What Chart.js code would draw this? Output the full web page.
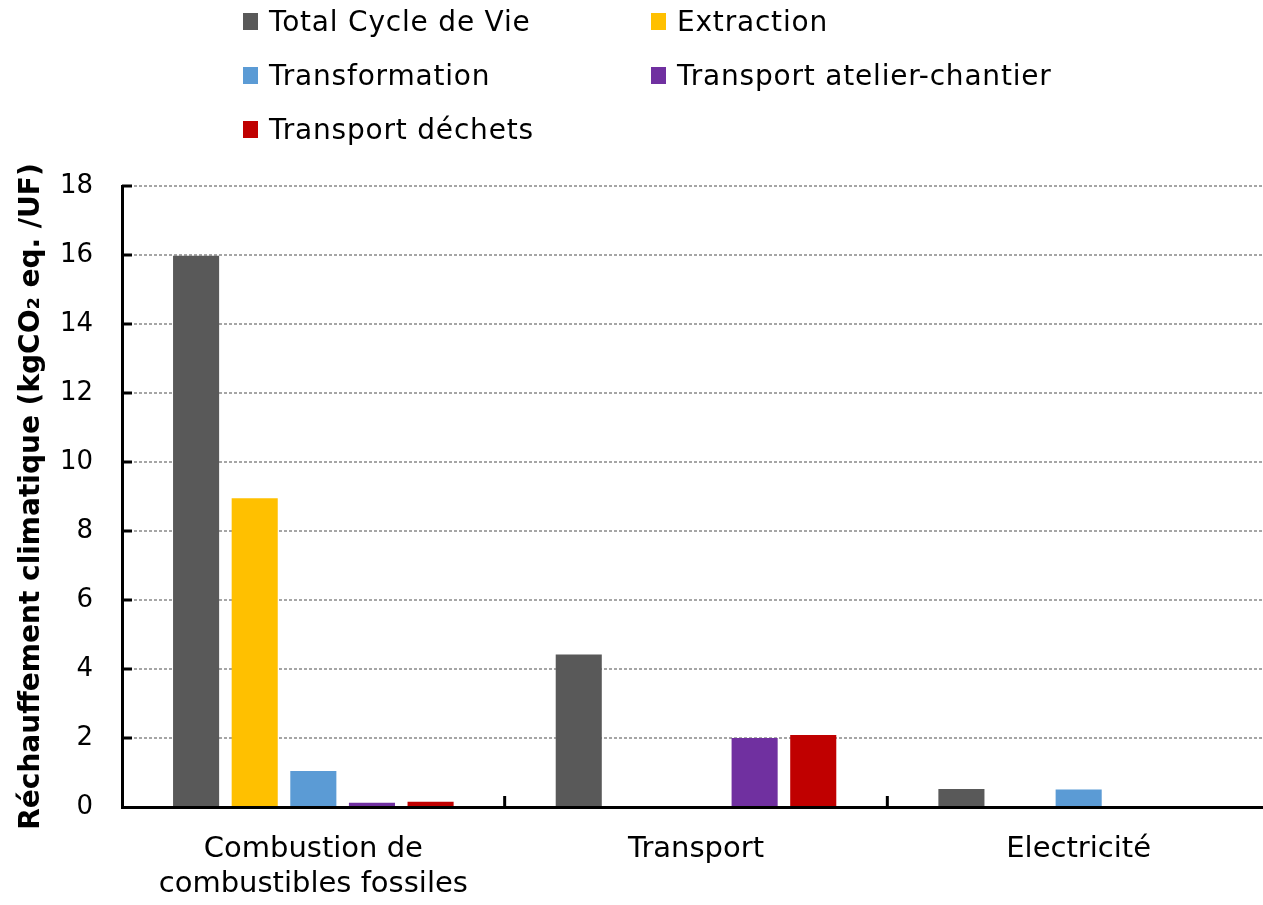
<!DOCTYPE html>
<html>
<head>
<meta charset="utf-8">
<script src="https://cdn.jsdelivr.net/npm/chart.js@4.4.1/dist/chart.umd.min.js"></script>
<style>
  body { margin: 0; background: #fff; overflow: hidden; }
  #wrap { position: relative; width: 1263px; height: 905px; overflow: hidden; }
  #legend { position: absolute; left: 243px; top: -6px; font-family: "DejaVu Sans", sans-serif; font-size: 28px; letter-spacing: 0.8px; color: #000;
            display: grid; grid-template-columns: 408px 420px; grid-auto-rows: 54px; white-space: nowrap; }
  .item { display: flex; align-items: center; }
  .box { width: 15px; height: 17px; margin-right: 11px; }
</style>
</head>
<body>
<div id="wrap">
  <canvas id="myChart" width="1270" height="905"></canvas>
  <div id="legend"></div>
</div>
<script>
// categories and series
const categories = [["Combustion de", "combustibles fossiles"], "Transport", "Electricité"];
const seriesNames = ["Total Cycle de Vie", "Extraction", "Transformation", "Transport atelier-chantier", "Transport déchets"];
const totalCycle = [15.98, 4.42, 0.52];
const extraction = [8.95, 0, 0];
const transformation = [1.04, 0, 0.51];
const transportAtelier = [0.12, 2.0, 0];
const transportDechets = [0.15, 2.09, 0];
const yTicks = [0, 2, 4, 6, 8, 10, 12, 14, 16, 18];
const colors = ["#595959", "#FFC000", "#5B9BD5", "#7030A0", "#C00000"];

const values = [totalCycle, extraction, transformation, transportAtelier, transportDechets];

// legend in two columns, like the original
let legend = document.getElementById("legend");
seriesNames.forEach((name, i) => {
    let item = document.createElement("div");
    item.className = "item";
    item.innerHTML = '<span class="box" style="background:' + colors[i] + '"></span><span>' + name + '</span>';
    legend.appendChild(item);
});

// the original has its tick marks pointing into the plot, chart.js draws them outside
const innerTicks = {
    id: "innerTicks",
    afterDraw(chart) {
        let x = chart.scales.x;
        let y = chart.scales.y;
        let ctx = chart.ctx;
        ctx.save();
        ctx.strokeStyle = "#000";
        ctx.lineWidth = 3;
        for (let i = 0; i < categories.length - 1; i++) {
            let px = (x.getPixelForValue(i) + x.getPixelForValue(i + 1)) / 2;
            ctx.beginPath();
            ctx.moveTo(px, x.top);
            ctx.lineTo(px, x.top - 11);
            ctx.stroke();
        }
        yTicks.forEach(v => {
            if (v == 0) return;
            let py = y.getPixelForValue(v);
            ctx.beginPath();
            ctx.moveTo(y.right, py);
            ctx.lineTo(y.right + 10, py);
            ctx.stroke();
        });
        ctx.restore();
    }
};

const data = {
    labels: categories,
    datasets: seriesNames.map((name, i) => ({
        label: name,
        data: values[i],
        backgroundColor: colors[i],
        borderWidth: 0,
        barPercentage: 0.786,
        categoryPercentage: 0.766
    }))
};

const config = {
    type: "bar",
    data,
    options: {
        responsive: false,
        animation: false,
        layout: { padding: { top: 186, left: 15, right: 0, bottom: 0 } },
        plugins: { legend: { display: false }, tooltip: { enabled: false } },
        scales: {
            x: {
                afterFit: axis => {
                    axis.height = 98;
                    // long first label would otherwise push the plot to the right
                    axis.paddingLeft = 0;
                    axis.paddingRight = 0;
                },
                grid: { display: false, drawTicks: false },
                border: { color: "#000", width: 3 },
                ticks: { color: "#000", padding: 24, font: { family: "DejaVu Sans", size: 29, lineHeight: 1.24 } }
            },
            y: {
                min: 0,
                max: 18,
                afterBuildTicks: axis => { axis.ticks = yTicks.map(v => ({ value: v })); },
                afterFit: axis => { axis.width = 107; },
                grid: { color: "#a6a6a6", lineWidth: 2, drawTicks: false },
                border: { color: "#000", width: 3, dash: [3, 2] },
                ticks: { color: "#000", padding: 29, font: { family: "DejaVu Sans", size: 26 } },
                title: {
                    display: true,
                    text: "Réchauffement climatique (kgCO₂ eq. /UF)",
                    color: "#000",
                    padding: { top: 0, bottom: 10 },
                    font: { family: "DejaVu Sans", size: 28, weight: "bold" }
                }
            }
        }
    },
    plugins: [innerTicks]
};

const myChart = new Chart(document.getElementById("myChart"), config);
</script>
</body>
</html>
